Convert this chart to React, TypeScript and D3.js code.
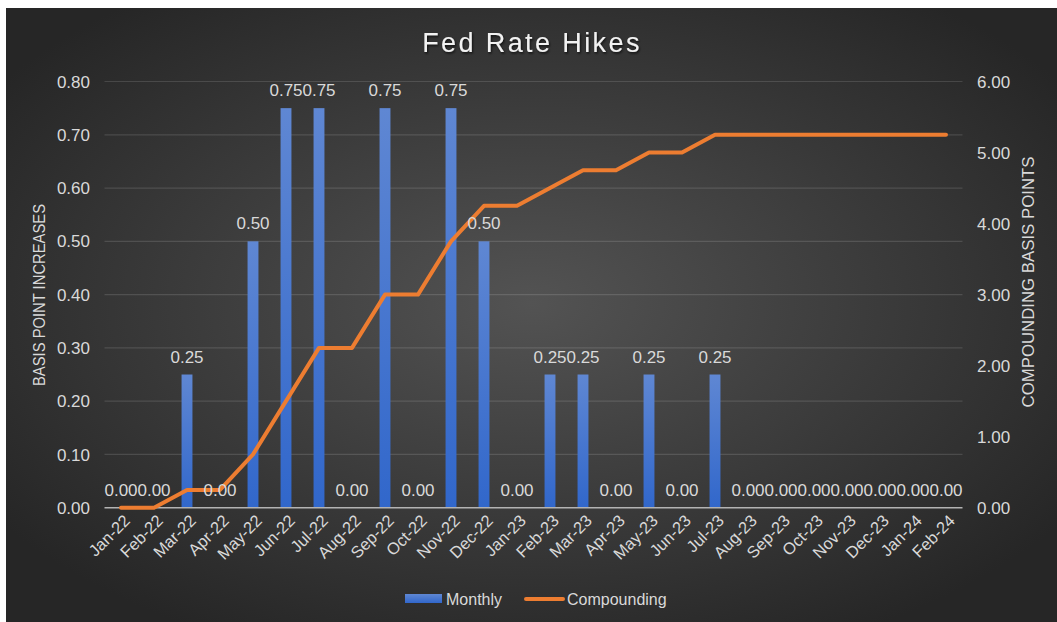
import React from "react";
import * as d3 from "d3";

const months = [
  "Jan-22","Feb-22","Mar-22","Apr-22","May-22","Jun-22","Jul-22","Aug-22","Sep-22","Oct-22","Nov-22","Dec-22",
  "Jan-23","Feb-23","Mar-23","Apr-23","May-23","Jun-23","Jul-23","Aug-23","Sep-23","Oct-23","Nov-23","Dec-23",
  "Jan-24","Feb-24",
];
const monthly = [0, 0, 0.25, 0, 0.5, 0.75, 0.75, 0, 0.75, 0, 0.75, 0.5, 0, 0.25, 0.25, 0, 0.25, 0, 0.25, 0, 0, 0, 0, 0, 0, 0];
const compounding = [0, 0, 0.25, 0.25, 0.75, 1.5, 2.25, 2.25, 3.0, 3.0, 3.75, 4.25, 4.25, 4.5, 4.75, 4.75, 5.0, 5.0, 5.25, 5.25, 5.25, 5.25, 5.25, 5.25, 5.25, 5.25];
const leftTicks = [0, 0.1, 0.2, 0.3, 0.4, 0.5, 0.6, 0.7, 0.8];
const rightTicks = [0, 1, 2, 3, 4, 5, 6];

const W = 1057;
const H = 622;
const left = 104.5;
const right = 962.5;
const top = 81.5;
const bottom = 507.7;

export default function App() {
  const x = d3.scaleBand<string>().domain(months).range([left, right]).padding(0);
  const yL = d3.scaleLinear().domain([0, 0.8]).range([bottom, top]);
  const yR = d3.scaleLinear().domain([0, 6]).range([bottom, top]);
  const bw = x.bandwidth() * 0.33;
  const cx = (m: string) => (x(m) as number) + x.bandwidth() / 2;
  const line = d3
    .line<number>()
    .x((_, i) => cx(months[i]))
    .y((d) => yR(d));
  const fmt = d3.format(".2f");
  const font = "'Liberation Sans', Arial, sans-serif";
  const narrow = "'Liberation Sans Narrow', 'Arial Narrow', 'Liberation Sans', sans-serif";
  const txt = "#d9d9d9";

  return (
    <div style={{ position: "fixed", left: 0, top: 0, width: W, height: H, background: "#fff" }}>
      <svg width={W} height={H} style={{ display: "block" }}>
        <defs>
          <radialGradient id="bg" cx="50%" cy="48%" r="62%">
            <stop offset="0%" stopColor="#535353" />
            <stop offset="100%" stopColor="#262626" />
          </radialGradient>
          <linearGradient id="bar" x1="0" y1="0" x2="0" y2="1">
            <stop offset="0%" stopColor="#5f87d3" />
            <stop offset="100%" stopColor="#3167cb" />
          </linearGradient>
          <filter id="shadow" x="-10%" y="-30%" width="120%" height="160%">
            <feDropShadow dx="1" dy="1.5" stdDeviation="1" floodColor="#000" floodOpacity="0.7" />
          </filter>
        </defs>
        <rect x={6} y={8} width={W - 6} height={H - 8} fill="url(#bg)" />

        <text
          x={532}
          y={52}
          textAnchor="middle"
          fontFamily={font}
          fontSize={27}
          letterSpacing={2.4}
          fill="#f2f2f2"
          filter="url(#shadow)"
        >
          Fed Rate Hikes
        </text>

        {leftTicks.map((t) => (
          <g key={"g" + t}>
            {t > 0 && (
              <line x1={left} x2={right} y1={yL(t)} y2={yL(t)} stroke="#ffffff" strokeOpacity={0.13} strokeWidth={1.2} />
            )}
            <text x={90} y={yL(t)} dy="0.36em" textAnchor="end" fontFamily={font} fontSize={17} fill={txt}>
              {fmt(t)}
            </text>
          </g>
        ))}
        {rightTicks.map((t) => (
          <text key={"r" + t} x={977} y={yR(t)} dy="0.36em" textAnchor="start" fontFamily={font} fontSize={17} fill={txt}>
            {fmt(t)}
          </text>
        ))}

        {months.map((m, i) =>
          monthly[i] > 0 ? (
            <rect
              key={"b" + m}
              x={cx(m) - bw / 2}
              y={yL(monthly[i])}
              width={bw}
              height={bottom - yL(monthly[i])}
              fill="url(#bar)"
            />
          ) : null
        )}

        <line x1={left} x2={right} y1={bottom} y2={bottom} stroke="#b3b3b3" strokeWidth={1.6} />

        <path
          d={line(compounding) || ""}
          fill="none"
          stroke="#ed7d31"
          strokeWidth={4}
          strokeLinejoin="round"
          strokeLinecap="round"
        />

        {months.map((m, i) => (
          <text
            key={"l" + m}
            x={cx(m)}
            y={yL(monthly[i]) - 12}
            textAnchor="middle"
            fontFamily={font}
            fontSize={17}
            fill={txt}
          >
            {fmt(monthly[i])}
          </text>
        ))}

        {months.map((m) => (
          <text
            key={"x" + m}
            transform={`translate(${cx(m) + 6},${bottom + 10}) rotate(-45)`}
            textAnchor="end"
            dy="0.35em"
            fontFamily={font}
            fontSize={16.5}
            fill={txt}
          >
            {m}
          </text>
        ))}

        <text
          transform={`translate(45,295) rotate(-90)`}
          textAnchor="middle"
          fontFamily={narrow}
          fontSize={16}
          textLength={182}
          lengthAdjust="spacingAndGlyphs"
          fill={txt}
        >
          BASIS POINT INCREASES
        </text>
        <text
          transform={`translate(1034,282) rotate(-90)`}
          textAnchor="middle"
          fontFamily={narrow}
          fontSize={16}
          textLength={251}
          lengthAdjust="spacingAndGlyphs"
          fill={txt}
        >
          COMPOUNDING BASIS POINTS
        </text>

        <g>
          <rect x={405} y={594} width={37} height={9} fill="url(#bar)" />
          <text x={446} y={605} fontFamily={font} fontSize={16} fill={txt}>
            Monthly
          </text>
          <line x1={526} x2={563} y1={599} y2={599} stroke="#ed7d31" strokeWidth={4} strokeLinecap="round" />
          <text x={567} y={605} fontFamily={font} fontSize={16} fill={txt}>
            Compounding
          </text>
        </g>
      </svg>
    </div>
  );
}
